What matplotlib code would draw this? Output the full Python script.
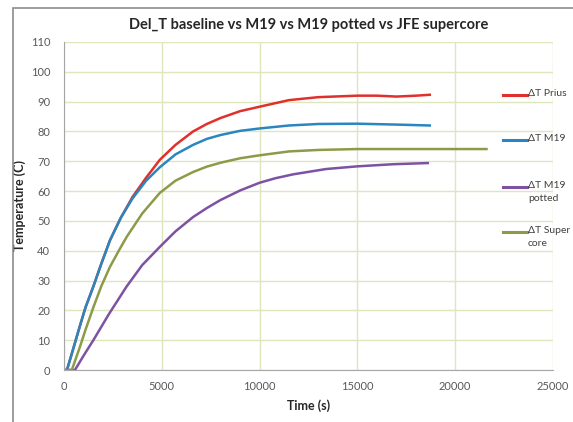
import matplotlib
matplotlib.use('Agg')
import matplotlib.pyplot as plt
from matplotlib.lines import Line2D
from matplotlib.patches import Rectangle

# data
prius_t = [0, 150, 400, 800, 1100, 1500, 1900, 2350, 2900, 3500, 4200, 4900, 5700, 6600, 7300,
           8000, 9000, 10000, 11500, 13000, 15000, 16000, 17000, 18000, 18700]
prius_T = [0, 0, 5.5, 14.5, 21, 28, 35.5, 43.5, 51, 58, 64.5, 70.5, 75.5, 80, 82.5,
           84.5, 86.8, 88.3, 90.5, 91.5, 92, 92, 91.7, 92, 92.3]

m19_t = [0, 150, 400, 800, 1100, 1500, 1900, 2350, 2900, 3500, 4200, 4900, 5700, 6600, 7300,
         8000, 9000, 10000, 11500, 13000, 15000, 17000, 18700]
m19_T = [0, 0, 5.5, 14.5, 21, 28, 35.5, 43.5, 51, 57.5, 63.5, 68, 72.3, 75.5, 77.5,
         78.8, 80.2, 81, 82, 82.5, 82.6, 82.3, 82]

potted_t = [0, 560, 1000, 1500, 2300, 3200, 4000, 4900, 5700, 6600, 7300, 8000, 9000, 10000,
            10800, 11700, 13400, 15000, 16800, 18600]
potted_T = [0, 0, 4.8, 10, 18.8, 28, 35.2, 41.3, 46.5, 51.3, 54.3, 57, 60.2, 62.8,
            64.3, 65.6, 67.4, 68.3, 69, 69.4]

super_t = [0, 400, 800, 1100, 1500, 1900, 2350, 2800, 3200, 4000, 4900, 5700, 6600, 7300, 8000,
           9000, 10000, 11500, 13000, 15000, 18000, 21600]
super_T = [0, 0, 7.5, 13.5, 21, 28, 34.6, 40, 44.6, 52.5, 59.4, 63.5, 66.4, 68.2, 69.5,
           71, 72, 73.3, 73.8, 74.1, 74.1, 74.1]

labels = ['\u0394T Prius', '\u0394T M19', '\u0394T M19\npotted', '\u0394T Super\ncore']
colors = ['#e0302c', '#2a86bf', '#7d52a3', '#8c9b48']

plt.rcParams['font.family'] = ['Lato', 'DejaVu Sans']

fig = plt.figure(figsize=(5.73, 4.22), dpi=100)
ax = fig.add_axes([0.1117, 0.1232, 0.8534, 0.7773])

# chart border
fig.add_artist(Rectangle((13 / 573, -0.05), 1.2, 1.05 - 8 / 422, transform=fig.transFigure,
                         fill=False, edgecolor='#8c8c8c', linewidth=1.2))

series = [(prius_t, prius_T), (m19_t, m19_T), (potted_t, potted_T), (super_t, super_T)]
for (t, T), c in zip(series, colors):
    ax.plot(t, T, color=c, linewidth=1.8, solid_joinstyle='round')

ax.set_xlim(0, 25000)
ax.set_ylim(0, 110)
ax.set_xticks(range(0, 25001, 5000))
ax.set_yticks(range(0, 111, 10))
ax.grid(True, color='#dfe5bd', linewidth=1)
ax.set_axisbelow(True)
for s in ['top', 'right']:
    ax.spines[s].set_visible(False)
ax.spines['left'].set_color('#a6a6a6')
ax.spines['bottom'].set_color('#a6a6a6')
ax.tick_params(length=0, labelsize=8, labelcolor='#595959')
ax.tick_params(axis='y', pad=10)
ax.tick_params(axis='x', pad=8)

ax.set_xlabel('Time (s)', fontsize=9, fontweight='bold', color='#262626', labelpad=5)
ax.set_ylabel('Temperature (C)', fontsize=9, fontweight='bold', color='#262626', labelpad=3)
ax.set_title('Del_T baseline vs M19 vs M19 potted vs JFE supercore', fontsize=10.5,
             fontweight='bold', color='#262626', pad=9)

# legend, Excel style on the right
leg_y = [95, 140, 187, 232]
for lab, c, yy in zip(labels, colors, leg_y):
    y = 1 - yy / 422
    fig.add_artist(Line2D([503 / 573, 527 / 573], [y, y], transform=fig.transFigure,
                          color=c, linewidth=2.2))
    fig.text(528 / 573, y + 6 / 422, lab, fontsize=7.5, color='#404040', va='top',
             linespacing=1.6)

fig.savefig('out.png', dpi=100)
